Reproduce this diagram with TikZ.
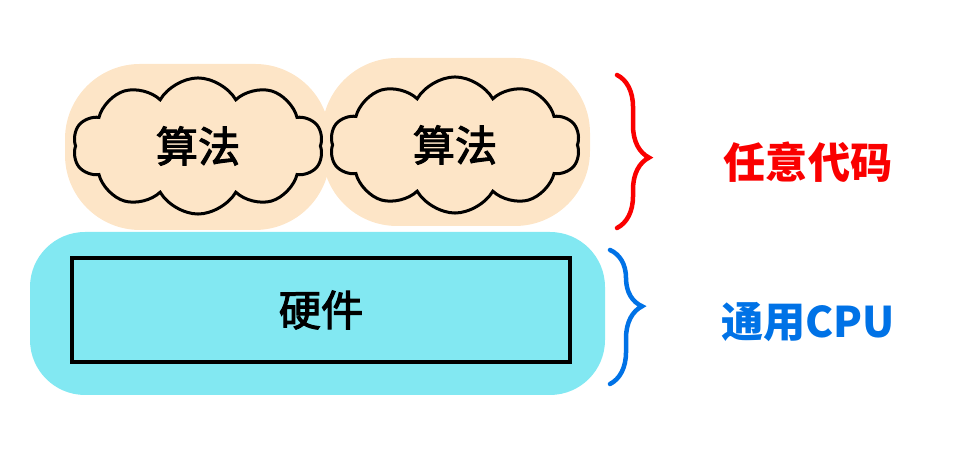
\documentclass[tikz,border=0pt]{standalone}
\usepackage{fontspec}
\newfontfamily\cjk{Noto Sans CJK SC}
\newfontfamily\cjkmed{Noto Sans CJK SC}[FakeBold=2.5]
\usetikzlibrary{shapes.symbols,decorations.pathreplacing}

\definecolor{peach}{RGB}{253,229,199}
\definecolor{hwcyan}{RGB}{130,232,242}
\definecolor{codered}{RGB}{250,0,0}
\definecolor{cpublue}{RGB}{0,114,230}

\tikzset{
    algcloud/.style={cloud, cloud puffs=10, cloud puff arc=120, draw=black,
        line width=0.03cm, fill=peach, minimum width=2.5cm, minimum height=1.36cm,
        inner sep=0pt, font=\cjkmed\fontsize{12pt}{13pt}\selectfont},
    halo/.style={rounded corners=0.75cm},
    hwbox/.style={draw=black, line width=0.045cm, fill=hwcyan, minimum width=4.98cm,
        minimum height=1.04cm, font=\cjkmed\fontsize{12pt}{13pt}\selectfont},
    bracestyle/.style={decorate, decoration={brace, amplitude=0.32cm, raise=0pt},
        line width=0.045cm, line cap=round},
    sidetext/.style={font=\cjk\bfseries\fontsize{12pt}{13pt}\selectfont}
}

\begin{document}
\begin{tikzpicture}[x=0.01cm, y=-0.01cm]
    \useasboundingbox (0,0) rectangle (955,456);

    % Halos
    \fill[halo, peach] (65,64) rectangle (330,230);
    \fill[halo, peach] (322,58) rectangle (590,226);
    \fill[halo, hwcyan, rounded corners=0.55cm] (30,232) rectangle (605,395);

    % Clouds
    \node[algcloud] (algA) at (198,146) {算法};
    \node[algcloud] (algB) at (455,145) {算法};

    % Hardware
    \node[hwbox] (hw) at (321,310) {硬件};

    % Braces
    \coordinate (codetop) at (617,75);
    \coordinate (codebot) at (617,228);
    \draw[bracestyle, codered, decoration={aspect=0.54}] (codetop) -- (codebot);

    \coordinate (cputop) at (610,250);
    \coordinate (cpubot) at (610,384);
    \draw[bracestyle, cpublue, decoration={aspect=0.42}] (cputop) -- (cpubot);

    % Labels
    \node[sidetext, text=codered] (anycode) at (808,162) {任意代码};
    \node[sidetext, text=cpublue] (cpu) at (808,322) {通用CPU};

\end{tikzpicture}
\end{document}
